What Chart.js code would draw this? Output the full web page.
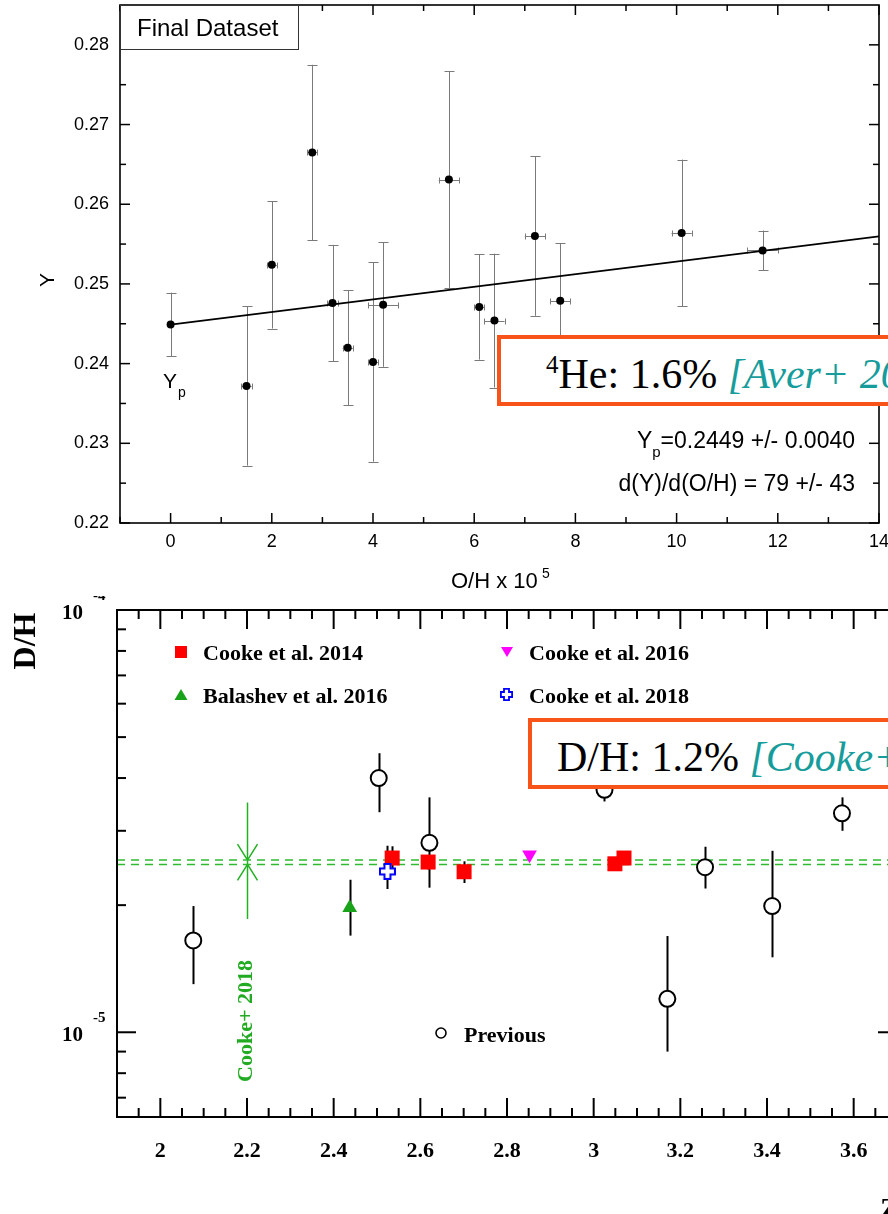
<!DOCTYPE html>
<html>
<head>
<meta charset="utf-8">
<title>Primordial helium and deuterium</title>
<script src="https://cdn.jsdelivr.net/npm/chart.js@4.4.1/dist/chart.umd.min.js"></script>
<style>
  html, body { margin: 0; padding: 0; background: #fff; overflow: hidden; }
  #page { position: relative; width: 888px; height: 1214px; overflow: hidden; background: #fff; }
  #heChart { position: absolute; left: 0; top: 0; z-index: 2; background: #fff; }
  #dhChart { position: absolute; left: 0; top: 590px; z-index: 1; }
  .callout { position: absolute; z-index: 3; background: #fff; border: 4px solid #f8541a; height: 71px; width: 460px;
    box-sizing: border-box; font-family: 'Liberation Serif', 'Times New Roman', serif; font-size: 42px; color: #000; white-space: nowrap; }
  .callout .txt { position: absolute; line-height: 42px; }
  .callout .ref { color: #179c9c; font-style: italic; }
  .callout .iso { font-size: 25px; position: relative; top: -15px; }
</style>
</head>
<body>
<div id="page">
  <canvas id="heChart" width="888" height="596"></canvas>
  <canvas id="dhChart" width="920" height="624"></canvas>
  <div class="callout" style="left:497px; top:335px;"><span class="txt" style="left:45px; top:14px;"><span class="iso">4</span>He: 1.6% <span class="ref">[Aver+ 2015]</span></span></div>
  <div class="callout" style="left:528px; top:718px;"><span class="txt" style="left:25px; top:14px;">D/H: 1.2% <span class="ref">[Cooke+ 2018]</span></span></div>
</div>
<script>
// ---------- helium: Y vs O/H ----------
const ohValues = [0, 1.5, 2.0, 2.8, 3.2, 3.5, 4.0, 4.2, 5.5, 6.1, 6.4, 7.2, 7.7, 10.1, 11.7];
const ohErr    = [0, 0.1, 0.1, 0.1, 0.1, 0.1, 0.1, 0.3, 0.2, 0.1, 0.2, 0.2, 0.2, 0.2, 0.3];
const heY      = [0.2449, 0.2372, 0.2524, 0.2665, 0.2476, 0.2420, 0.2402, 0.2474, 0.2631, 0.2471, 0.2454, 0.2560, 0.2479, 0.2564, 0.2542];
const heYErr   = [0.0040, 0.0100, 0.0080, 0.0110, 0.0073, 0.0072, 0.0125, 0.0078, 0.0136, 0.0066, 0.0084, 0.0100, 0.0072, 0.0092, 0.0025];
const YP = 0.2449;        // intercept
const SLOPE = 79e-5;      // dY/d(O/H), O/H in units of 1e-5
const fitX = [0, 14];
const heXTicks = [0, 2, 4, 6, 8, 10, 12, 14];
const heXMinor = [-1, 1, 3, 5, 7, 9, 11, 13];
const heYTicks = [0.22, 0.23, 0.24, 0.25, 0.26, 0.27, 0.28];
const heYMinor = [0.225, 0.235, 0.245, 0.255, 0.265, 0.275];

// ---------- deuterium: D/H vs z (values in units of 1e-5) ----------
const prevZ  = [2.076, 2.504, 2.621, 3.025, 3.170, 3.257, 3.412, 3.573];
const prevDH = [1.65, 4.00, 2.81, 3.75, 1.20, 2.46, 1.99, 3.30];
const prevLo = [1.30, 3.32, 2.20, 3.52, 0.90, 2.19, 1.505, 3.00];
const prevHi = [1.99, 4.58, 3.60, 3.98, 1.69, 2.75, 2.69, 3.60];

const c14Z  = [2.535, 2.618, 2.701, 3.049, 3.070];
const c14DH = [2.586, 2.530, 2.400, 2.506, 2.586];
const c14Lo = [2.42, 2.43, 2.257, 2.46, 2.54];
const c14Hi = [2.757, 2.63, 2.540, 2.55, 2.63];

const c16Z = [2.852];  const c16DH = [2.633];
const c18Z = [2.524];  const c18DH = [2.404]; const c18Lo = [2.184]; const c18Hi = [2.765];
const b16Z = [2.437];  const b16DH = [1.972]; const b16Lo = [1.694]; const b16Hi = [2.297];

const cookeMean = 2.527, cookeErr = 0.030;   // Cooke+ 2018 primordial D/H
const cookeMarkZ = 2.2, cookeMarkLo = 1.855, cookeMarkHi = 3.5;
const zTicks = [2, 2.2, 2.4, 2.6, 2.8, 3, 3.2, 3.4, 3.6];
const zTickLabels = ['2', '2.2', '2.4', '2.6', '2.8', '3', '3.2', '3.4', '3.6'];
const dhMinor = [0.7, 0.8, 0.9, 2, 3, 4, 5, 6, 7, 8, 9];
const E5 = 1e-5;

const SANS = '"Liberation Sans", Arial, sans-serif';
const SERIF = '"Liberation Serif", "Times New Roman", serif';

function pts(xs, ys, k) {
  return xs.map((x, i) => ({ x: x, y: ys[i] * (k || 1) }));
}

// vertical (and optional horizontal) error bars under the markers
const errorBars = {
  id: 'errorBars',
  beforeDatasetsDraw(chart, args, opts) {
    const ctx = chart.ctx, xs = chart.scales.x, ys = chart.scales.y;
    ctx.save();
    ctx.strokeStyle = opts.color;
    ctx.lineWidth = opts.width;
    const cap = opts.cap || 0;
    chart.data.datasets.forEach(ds => {
      if (!ds.yLow) return;
      ds.data.forEach((p, i) => {
        const x = Math.round(xs.getPixelForValue(p.x)) + 0.5;
        const y = ys.getPixelForValue(p.y);
        const y0 = ys.getPixelForValue(ds.yLow[i]), y1 = ys.getPixelForValue(ds.yHigh[i]);
        ctx.beginPath();
        ctx.moveTo(x, y0); ctx.lineTo(x, y1);
        if (cap) {
          ctx.moveTo(x - cap, Math.round(y0) + 0.5); ctx.lineTo(x + cap, Math.round(y0) + 0.5);
          ctx.moveTo(x - cap, Math.round(y1) + 0.5); ctx.lineTo(x + cap, Math.round(y1) + 0.5);
        }
        if (ds.xLow && ds.xHigh[i] > ds.xLow[i]) {
          const xa = xs.getPixelForValue(ds.xLow[i]), xb = xs.getPixelForValue(ds.xHigh[i]);
          const yy = Math.round(y) + 0.5;
          ctx.moveTo(xa, yy); ctx.lineTo(xb, yy);
          ctx.moveTo(Math.round(xa) + 0.5, yy - 3); ctx.lineTo(Math.round(xa) + 0.5, yy + 3);
          ctx.moveTo(Math.round(xb) + 0.5, yy - 3); ctx.lineTo(Math.round(xb) + 0.5, yy + 3);
        }
        ctx.stroke();
      });
    });
    ctx.restore();
  }
};

function line(ctx, x0, y0, x1, y1) {
  ctx.beginPath(); ctx.moveTo(x0, y0); ctx.lineTo(x1, y1); ctx.stroke();
}

// frame, inward ticks and all lettering of the helium panel
const heFrame = {
  id: 'heFrame',
  afterDraw(chart) {
    const ctx = chart.ctx, a = chart.chartArea, xs = chart.scales.x, ys = chart.scales.y;
    ctx.save();
    ctx.strokeStyle = '#000';
    ctx.lineWidth = 1.5;
    const tx = (v, len) => {
      const x = xs.getPixelForValue(v);
      line(ctx, x, a.bottom, x, a.bottom - len);
      line(ctx, x, a.top, x, a.top + len);
    };
    const ty = (v, len) => {
      const y = ys.getPixelForValue(v);
      line(ctx, a.left, y, a.left + len, y);
      line(ctx, a.right, y, a.right - len, y);
    };
    heXMinor.forEach(v => tx(v, 6));
    heXTicks.forEach(v => tx(v, 10));
    heYMinor.forEach(v => ty(v, 6));
    heYTicks.forEach(v => ty(v, 10));
    ctx.lineWidth = 1.6;
    ctx.strokeRect(a.left, a.top, a.right - a.left, a.bottom - a.top);

    // legend box
    ctx.fillStyle = '#fff';
    ctx.fillRect(a.left, a.top, 178, 44);
    ctx.lineWidth = 1;
    ctx.strokeStyle = '#333';
    ctx.strokeRect(a.left + 0.5, a.top + 0.5, 178, 44);
    ctx.fillStyle = '#000';
    ctx.font = '24px ' + SANS;
    ctx.textAlign = 'left';
    ctx.textBaseline = 'alphabetic';
    ctx.fillText(chart.data.datasets[0].label, a.left + 17, a.top + 31);

    // tick labels
    ctx.font = '18px ' + SANS;
    ctx.textAlign = 'right';
    ctx.textBaseline = 'middle';
    heYTicks.forEach(v => ctx.fillText(v.toFixed(2), 109, ys.getPixelForValue(v)));
    ctx.textAlign = 'center';
    heXTicks.forEach(v => ctx.fillText(String(v), xs.getPixelForValue(v), 542));

    // axis titles
    ctx.font = '22px ' + SANS;
    ctx.textAlign = 'left';
    ctx.textBaseline = 'alphabetic';
    ctx.fillText('O/H x 10', 451, 588);
    ctx.font = '14px ' + SANS;
    ctx.fillText('5', 542, 578);
    ctx.save();
    ctx.translate(48, 280);
    ctx.rotate(-Math.PI / 2);
    ctx.font = '21px ' + SANS;
    ctx.textAlign = 'center';
    ctx.textBaseline = 'middle';
    ctx.fillText('Y', 0, 0);
    ctx.restore();

    // Yp marker label
    ctx.font = '21px ' + SANS;
    ctx.fillText('Y', 163, 388);
    ctx.font = '14px ' + SANS;
    ctx.fillText('p', 178, 397);

    // fit result, right aligned
    const right = 855;
    ctx.font = '23px ' + SANS;
    const rest = '=0.2449 +/- 0.0040';
    const wRest = ctx.measureText(rest).width;
    ctx.font = '15px ' + SANS;
    const wSub = ctx.measureText('p').width;
    ctx.font = '23px ' + SANS;
    const wY = ctx.measureText('Y').width;
    let x0 = right - wRest - wSub - wY;
    ctx.fillText('Y', x0, 448);
    ctx.fillText(rest, x0 + wY + wSub, 448);
    ctx.font = '15px ' + SANS;
    ctx.fillText('p', x0 + wY, 457);
    ctx.font = '23px ' + SANS;
    ctx.textAlign = 'right';
    ctx.fillText('d(Y)/d(O/H) = 79 +/- 43', right, 491);
    ctx.restore();
  }
};

new Chart(document.getElementById('heChart'), {
  type: 'scatter',
  data: {
    datasets: [
      {
        label: 'Final Dataset',
        data: pts(ohValues, heY),
        yLow: heY.map((v, i) => v - heYErr[i]),
        yHigh: heY.map((v, i) => v + heYErr[i]),
        xLow: ohValues.map((v, i) => v - ohErr[i]),
        xHigh: ohValues.map((v, i) => v + ohErr[i]),
        pointRadius: 4,
        pointBackgroundColor: '#000',
        pointBorderWidth: 0,
        order: 0
      },
      {
        label: 'fit',
        data: fitX.map(x => ({ x: x, y: YP + SLOPE * x })),
        showLine: true,
        borderColor: '#000',
        borderWidth: 1.7,
        pointRadius: 0,
        order: 1
      }
    ]
  },
  options: {
    responsive: false,
    animation: false,
    events: [],
    layout: { padding: { left: 120, right: 9, top: 5, bottom: 73 } },
    plugins: {
      legend: { display: false },
      tooltip: { enabled: false },
      errorBars: { color: '#7a7a7a', width: 1, cap: 5 }
    },
    scales: {
      x: { type: 'linear', min: -1, max: 14, bounds: 'data', display: false },
      y: { type: 'linear', min: 0.22, max: 0.285, bounds: 'data', display: false }
    }
  },
  plugins: [errorBars, heFrame]
});

// ---------- deuterium panel ----------
function plusMarker(size, arm, color, lw) {
  const c = document.createElement('canvas');
  c.width = c.height = size;
  const g = c.getContext('2d');
  const m = size / 2, h = arm / 2, e = lw / 2, s = size;
  g.beginPath();
  g.moveTo(m - h, e); g.lineTo(m + h, e); g.lineTo(m + h, m - h); g.lineTo(s - e, m - h);
  g.lineTo(s - e, m + h); g.lineTo(m + h, m + h); g.lineTo(m + h, s - e); g.lineTo(m - h, s - e);
  g.lineTo(m - h, m + h); g.lineTo(e, m + h); g.lineTo(e, m - h); g.lineTo(m - h, m - h);
  g.closePath();
  g.fillStyle = '#fff'; g.fill();
  g.strokeStyle = color; g.lineWidth = lw; g.stroke();
  return c;
}
const plusBig = plusMarker(17, 6, '#0000ff', 2);
const plusSmall = plusMarker(13, 5, '#0000ff', 1.8);

const dhFrame = {
  id: 'dhFrame',
  beforeDatasetsDraw(chart) {
    // Cooke+ 2018 marker: vertical bar with arrow heads toward the band
    const ctx = chart.ctx, xs = chart.scales.x, ys = chart.scales.y;
    const x = Math.round(xs.getPixelForValue(cookeMarkZ)) + 0.5;
    const yHi = ys.getPixelForValue((cookeMean + cookeErr) * E5);
    const yLo = ys.getPixelForValue((cookeMean - cookeErr) * E5);
    ctx.save();
    ctx.strokeStyle = '#22b022';
    ctx.lineWidth = 1.5;
    line(ctx, x, ys.getPixelForValue(cookeMarkHi * E5), x, ys.getPixelForValue(cookeMarkLo * E5));
    ctx.beginPath();
    ctx.moveTo(x - 10, yHi - 16); ctx.lineTo(x, yHi); ctx.lineTo(x + 10, yHi - 16);
    ctx.moveTo(x - 10, yLo + 16); ctx.lineTo(x, yLo); ctx.lineTo(x + 10, yLo + 16);
    ctx.stroke();
    ctx.restore();
  },
  afterDraw(chart) {
    const ctx = chart.ctx, a = chart.chartArea, xs = chart.scales.x, ys = chart.scales.y;
    ctx.save();
    ctx.strokeStyle = '#000';
    ctx.lineWidth = 2;
    // x ticks every 0.05, majors every 0.2
    for (let k = 0; k * 0.05 + 1.95 < 3.7; k++) {
      const v = 1.95 + k * 0.05;
      const major = zTicks.some(t => Math.abs(t - v) < 1e-6);
      const len = major ? 19 : 9;
      const x = xs.getPixelForValue(v);
      line(ctx, x, a.bottom, x, a.bottom - len);
      line(ctx, x, a.top, x, a.top + len);
    }
    const ty = (v, len) => {
      const y = ys.getPixelForValue(v);
      line(ctx, a.left, y, a.left + len, y);
      line(ctx, a.right, y, a.right - len, y);
    };
    dhMinor.forEach(v => ty(v * E5, 9));
    ty(1 * E5, 19);
    ctx.strokeRect(a.left, a.top, a.right - a.left, a.bottom - a.top);

    ctx.fillStyle = '#000';
    ctx.font = 'bold 22px ' + SERIF;
    ctx.textAlign = 'center';
    ctx.textBaseline = 'alphabetic';
    zTicks.forEach((v, i) => ctx.fillText(zTickLabels[i], xs.getPixelForValue(v), 567));

    // decade labels
    const decade = (y, exp) => {
      ctx.font = 'bold 21px ' + SERIF;
      ctx.textAlign = 'right';
      ctx.fillText('10', 83, y);
      ctx.font = 'bold 15px ' + SERIF;
      ctx.textAlign = 'left';
      ctx.fillText(exp, 93, y - 19);
    };
    decade(ys.getPixelForValue(1 * E5) + 9, '-5');
    decade(ys.getPixelForValue(10 * E5) + 9, '-4');

    // axis titles
    ctx.save();
    ctx.translate(27, 51);
    ctx.rotate(-Math.PI / 2);
    ctx.font = 'bold 32px ' + SERIF;
    ctx.textAlign = 'center';
    ctx.textBaseline = 'middle';
    ctx.fillText('D/H', 0, 0);
    ctx.restore();
    ctx.font = 'bold 30px ' + SERIF;
    ctx.textAlign = 'left';
    ctx.fillText('Z', 880, 628);

    // band label
    ctx.save();
    ctx.translate(xs.getPixelForValue(cookeMarkZ) - 1, 431);
    ctx.rotate(-Math.PI / 2);
    ctx.fillStyle = '#22aa22';
    ctx.font = 'bold 22px ' + SERIF;
    ctx.textAlign = 'center';
    ctx.textBaseline = 'middle';
    ctx.fillText('Cooke+ 2018', 0, 0);
    ctx.restore();

    // legend
    const ds = chart.data.datasets;
    const label = (i, x, y) => {
      ctx.fillStyle = '#000';
      ctx.font = 'bold 22px ' + SERIF;
      ctx.textAlign = 'left';
      ctx.textBaseline = 'alphabetic';
      ctx.fillText(ds[i].label, x, y);
    };
    // red square
    ctx.fillStyle = '#ff0000';
    ctx.fillRect(175, 56, 12, 12);
    label(2, 203, 70);
    // green triangle
    ctx.fillStyle = '#1aa31a';
    ctx.beginPath(); ctx.moveTo(181, 99); ctx.lineTo(187.5, 110); ctx.lineTo(174.5, 110); ctx.closePath(); ctx.fill();
    label(1, 203, 113);
    // magenta triangle
    ctx.fillStyle = '#ff00ff';
    ctx.beginPath(); ctx.moveTo(501, 57); ctx.lineTo(513, 57); ctx.lineTo(507, 67); ctx.closePath(); ctx.fill();
    label(3, 529, 70);
    // blue open cross
    ctx.drawImage(plusSmall, 500, 98);
    label(4, 529, 113);
    // open circle
    ctx.strokeStyle = '#000';
    ctx.lineWidth = 1.6;
    ctx.fillStyle = '#fff';
    ctx.beginPath(); ctx.arc(441, 443, 5, 0, Math.PI * 2); ctx.fill(); ctx.stroke();
    label(0, 464, 452);
    ctx.restore();
  }
};

const band = (v, lbl) => ({
  label: lbl,
  data: [{ x: 1.9, y: v * E5 }, { x: 3.7, y: v * E5 }],
  showLine: true,
  borderColor: '#2fbb2f',
  borderWidth: 1.5,
  borderDash: [8, 6],
  pointRadius: 0,
  order: 6
});

new Chart(document.getElementById('dhChart'), {
  type: 'scatter',
  data: {
    datasets: [
      {
        label: 'Previous',
        data: pts(prevZ, prevDH, E5),
        yLow: prevLo.map(v => v * E5),
        yHigh: prevHi.map(v => v * E5),
        pointStyle: 'circle',
        pointRadius: 8,
        pointBorderWidth: 2,
        pointBorderColor: '#000',
        pointBackgroundColor: '#fff',
        order: 4
      },
      {
        label: 'Balashev et al. 2016',
        data: pts(b16Z, b16DH, E5),
        yLow: b16Lo.map(v => v * E5),
        yHigh: b16Hi.map(v => v * E5),
        pointStyle: 'triangle',
        pointRadius: 8.5,
        pointBorderWidth: 0,
        pointBackgroundColor: '#1aa31a',
        order: 3
      },
      {
        label: 'Cooke et al. 2014',
        data: pts(c14Z, c14DH, E5),
        yLow: c14Lo.map(v => v * E5),
        yHigh: c14Hi.map(v => v * E5),
        pointStyle: 'rect',
        pointRadius: 10.6,
        pointBorderWidth: 0,
        pointBackgroundColor: '#ff0000',
        order: 2
      },
      {
        label: 'Cooke et al. 2016',
        data: pts(c16Z, c16DH, E5),
        pointStyle: 'triangle',
        pointRotation: 180,
        pointRadius: 8.5,
        pointBorderWidth: 0,
        pointBackgroundColor: '#ff00ff',
        order: 1
      },
      {
        label: 'Cooke et al. 2018',
        data: pts(c18Z, c18DH, E5),
        yLow: c18Lo.map(v => v * E5),
        yHigh: c18Hi.map(v => v * E5),
        pointStyle: plusBig,
        pointRadius: 8,
        order: 0
      },
      band(cookeMean + cookeErr, 'Cooke+ 2018 upper'),
      band(cookeMean - cookeErr, 'Cooke+ 2018 lower')
    ]
  },
  options: {
    responsive: false,
    animation: false,
    events: [],
    layout: { padding: { left: 117, right: 23, top: 20, bottom: 97 } },
    plugins: {
      legend: { display: false },
      tooltip: { enabled: false },
      errorBars: { color: '#000', width: 2, cap: 0 }
    },
    scales: {
      x: { type: 'linear', min: 1.9, max: 3.7, bounds: 'data', display: false },
      y: { type: 'logarithmic', min: 6.3e-6, max: 1e-4, bounds: 'data', display: false }
    }
  },
  plugins: [errorBars, dhFrame]
});
</script>
</body>
</html>
